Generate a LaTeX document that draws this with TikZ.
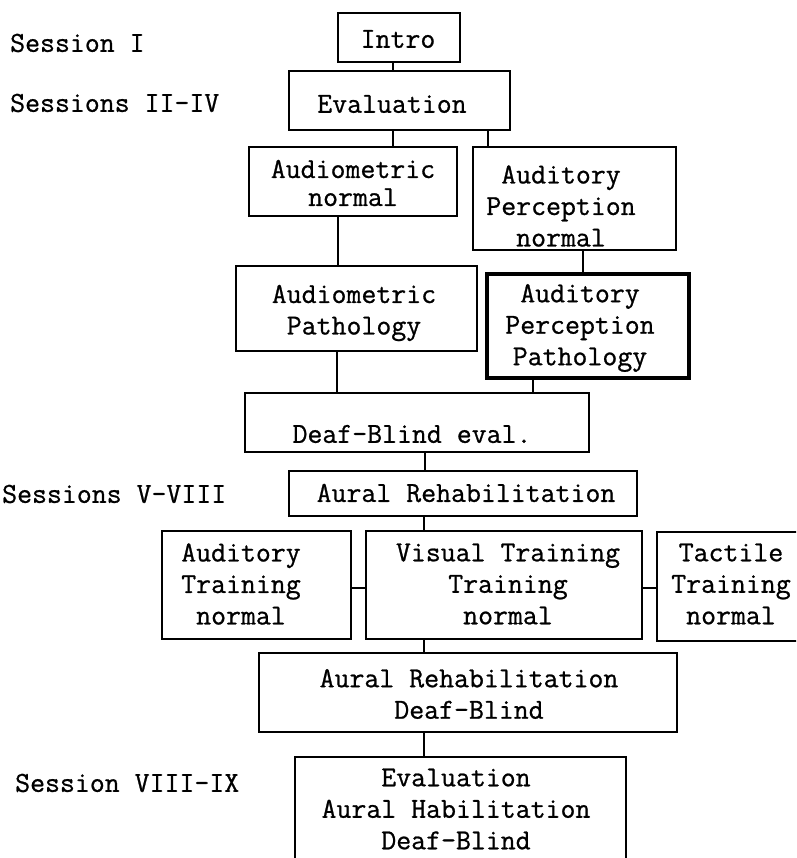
\documentclass[tikz,border=0pt]{standalone}
\usepackage{fontspec}
\newfontfamily\tw[FakeBold=0.8]{Latin Modern Mono}
\begin{document}
\begin{tikzpicture}[x=1pt,y=-1pt,
  box/.style={draw, line width=2.8pt, inner sep=0pt},
  txt/.style={font=\tw\fontsize{29}{31.5}\selectfont, align=center, inner sep=0pt},
  tight/.style={font=\tw\fontsize{29}{28}\selectfont, align=center, inner sep=0pt},
  side/.style={font=\tw\fontsize{29}{31.5}\selectfont, anchor=west, inner sep=0pt},
  link/.style={line width=2.8pt}]
\useasboundingbox (0,0) rectangle (796,858);
\clip (0,0) rectangle (796,858);
\fill[white] (0,0) rectangle (796,858);

% session labels
\node[side] (s1) at (10,43) {Session I};
\node[side] (s2) at (10,103) {Sessions II-IV};
\node[side] (s3) at (2,494) {Sessions V-VIII};
\node[side] (s4) at (15,783) {Session VIII-IX};

% boxes
\node[box, minimum width=122, minimum height=49] (intro) at (399,37.5) {};
\node[box, minimum width=221, minimum height=59] (eval) at (399.5,100.5) {};
\node[box, minimum width=208, minimum height=69] (audn) at (353,181.5) {};
\node[box, minimum width=203, minimum height=103] (apn) at (574.5,198.5) {};
\node[box, minimum width=241, minimum height=85] (audp) at (356.5,308.5) {};
\node[box, minimum width=202, minimum height=104, line width=3.3pt] (app) at (588,326) {};
\node[box, minimum width=344, minimum height=59] (db) at (417,422.5) {};
\node[box, minimum width=348, minimum height=45] (ar) at (463,493.5) {};
\node[box, minimum width=189, minimum height=108] (audt) at (256.5,585) {};
\node[box, minimum width=276, minimum height=108] (vis) at (504,585) {};
\node[box, minimum width=158, minimum height=109] (tac) at (736,586.5) {};
\node[box, minimum width=418, minimum height=79] (ardb) at (468,692.5) {};
\node[box, minimum width=331, minimum height=123] (fin) at (460.5,818.5) {};

% texts
\node[txt] (tintro) at (398,39) {Intro};
\node[txt] (teval) at (392,104) {Evaluation};
\node[tight] (taudn) at (353,183) {Audiometric\\normal};
\node[txt] (tapn) at (561,206) {Auditory\\Perception\\normal};
\node[txt] (taudp) at (354,313) {Audiometric\\Pathology};
\node[txt] (tapp) at (580,328) {Auditory\\Perception\\Pathology};
\node[txt] (tdb) at (412,434) {Deaf-Blind eval.};
\node[txt] (tar) at (466,493) {Aural Rehabilitation};
\node[txt] (taudt) at (241,584) {Auditory\\Training\\normal};
\node[txt] (tvis) at (508,584) {Visual Training\\Training\\normal};
\node[txt] (ttac) at (731,584) {Tactile\\Training\\normal};
\node[txt] (tardb) at (469,694) {Aural Rehabilitation\\Deaf-Blind};
\node[txt] (tfin) at (456,809) {Evaluation\\Aural Habilitation\\Deaf-Blind};

% connectors
\draw[link] ([xshift=-6]intro.south) -- ([xshift=-6]intro.south |- eval.north);
\draw[link] ([xshift=-6.5]eval.south) -- ([xshift=-6.5]eval.south |- audn.north);
\draw[link] ([xshift=88.5]eval.south) -- ([xshift=88.5]eval.south |- apn.north);
\draw[link] ([xshift=-15]audn.south) -- ([xshift=-15]audn.south |- audp.north);
\draw[link] ([xshift=8.5]apn.south) -- ([xshift=8.5]apn.south |- app.north);
\draw[link] ([xshift=-19.5]audp.south) -- ([xshift=-19.5]audp.south |- db.north);
\draw[link] ([xshift=-55]app.south) -- ([xshift=-55]app.south |- db.north);
\draw[link] ([xshift=8]db.south) -- ([xshift=8]db.south |- ar.north);
\draw[link] ([xshift=-39]ar.south) -- ([xshift=-39]ar.south |- vis.north);
\draw[link] ([yshift=-3]audt.east) -- ([yshift=-3]audt.east -| vis.west);
\draw[link] ([yshift=-3]vis.east) -- ([yshift=-3]vis.east -| tac.west);
\draw[link] ([xshift=-80]vis.south) -- ([xshift=-80]vis.south |- ardb.north);
\draw[link] ([xshift=-44]ardb.south) -- ([xshift=-44]ardb.south |- fin.north);
\end{tikzpicture}
\end{document}
